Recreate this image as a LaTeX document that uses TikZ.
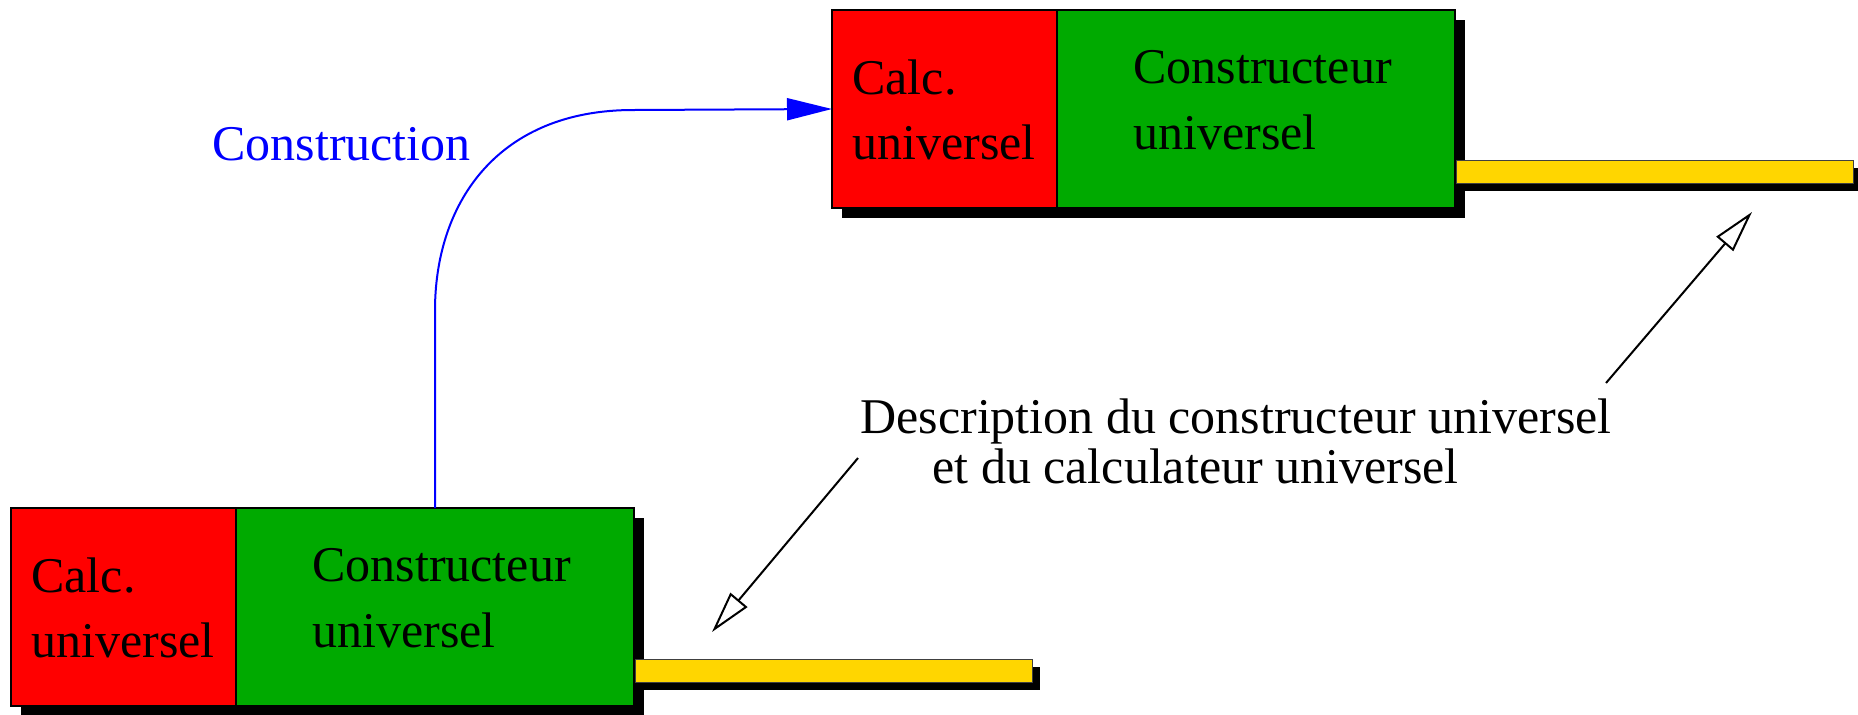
\documentclass[tikz,border=0pt]{standalone}
\usepackage{fontspec}
\setmainfont{Liberation Serif}
\usetikzlibrary{arrows.meta,shadows}
\definecolor{calcred}{RGB}{255,0,0}
\definecolor{consgreen}{RGB}{0,170,0}
\definecolor{baryellow}{RGB}{255,214,0}
\definecolor{consblue}{RGB}{0,0,255}
\begin{document}
\begin{tikzpicture}[x=0.5pt,y=-0.5pt,
  boxshadow/.style={drop shadow={shadow xshift=5pt,shadow yshift=-5pt,fill=black,opacity=1}},
  barshadow/.style={drop shadow={shadow xshift=4pt,shadow yshift=-4pt,fill=black,opacity=1}},
  basebox/.style={rectangle,draw=black,line width=0.9pt,inner sep=0pt,outer sep=0pt,
    minimum height=99pt,anchor=north west,boxshadow},
  calcbox/.style={basebox,fill=calcred,minimum width=112.5pt},
  consbox/.style={basebox,fill=consgreen,minimum width=199pt},
  tape/.style={rectangle,draw=black!75,line width=0.5pt,fill=baryellow,inner sep=0pt,outer sep=0pt,
    minimum width=198.5pt,minimum height=11.5pt,anchor=north west,barshadow},
  txt/.style={font=\fontsize{25}{30}\selectfont,inner sep=0pt,anchor=base west},
  construct/.style={draw=consblue,line width=1pt,-{Triangle[length=22.5pt,width=11pt]}},
  pointer/.style={draw=black,line width=1pt,-{Triangle[length=21pt,width=11pt,fill=white]}}
]
\useasboundingbox (0,0) rectangle (1858,714);

% top machine
\node[calcbox] (calcT) at (832,10) {};
\node[consbox] (consT) at (calcT.north east) {};
\node[tape] (tapeT) at (1456,160) {};
\node[txt] (calcT1) at (852,94) {Calc.};
\node[txt] (calcT2) at (852,159) {universel};
\node[txt] (consT1) at (1133,83) {Constructeur};
\node[txt] (consT2) at (1133,149) {universel};

% bottom machine
\node[calcbox] (calcB) at (11,508) {};
\node[consbox] (consB) at (calcB.north east) {};
\node[tape] (tapeB) at (635,659) {};
\node[txt] (calcB1) at (31,592) {Calc.};
\node[txt] (calcB2) at (31,657) {universel};
\node[txt] (consB1) at (312,581) {Constructeur};
\node[txt] (consB2) at (312,647) {universel};

% construction arrow
\node[txt,text=consblue] (constr) at (212,160) {Construction};
\draw[construct] (consB.north) -- (435,308)
  .. controls (436,200) and (500,110) .. (633,110) -- (calcT.west);

% description
\node[txt] (desc1) at (860,433) {Description du constructeur universel};
\node[txt] (desc2) at (932,483) {et du calculateur universel};
\coordinate (tailT) at (1606,383);
\coordinate (tipT) at (1752,212);
\coordinate (tailB) at (858,458);
\coordinate (tipB) at (712,632);
\draw[pointer] (tailT) -- (tipT);
\draw[pointer] (tailB) -- (tipB);
\end{tikzpicture}
\end{document}
